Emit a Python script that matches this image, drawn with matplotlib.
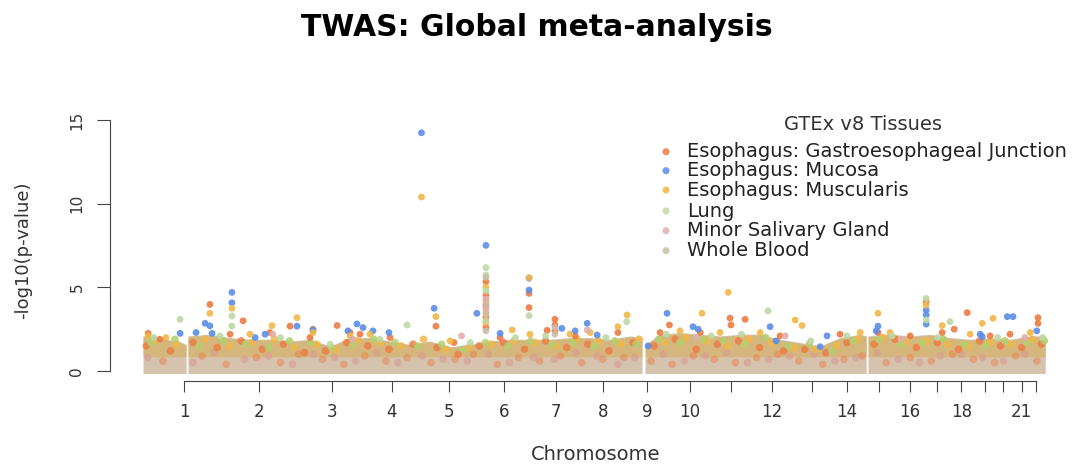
import matplotlib
matplotlib.use('Agg')
import matplotlib.pyplot as plt

#%% data

tissues = ['Esophagus: Gastroesophageal Junction', 'Esophagus: Mucosa',
           'Esophagus: Muscularis', 'Lung', 'Minor Salivary Gland', 'Whole Blood']
colours = ['#EE7A42', '#5C8DE8', '#F0B748', '#BCD9A4', '#E2AEAE', '#C9BEA8']

# chromosome lengths (Mb), ticks sit at the cumulative starts
chrom_len = [249, 243, 198, 191, 181, 171, 159, 146, 141, 136, 135,
             134, 115, 107, 103, 90, 81, 78, 59, 63, 48, 51]
tick_text = ['1', '2', '3', '4', '5', '6', '7', '8', '9', '10', '', '12',
             '', '14', '', '16', '', '18', '', '', '21', '']

# the dense band of non-significant genes (cumulative Mb, -log10 p)
band_x = [[-136, -100, -60, -20, 7],
          [13, 86, 153, 219, 285, 352, 418, 485, 551, 617, 684, 750, 816,
           883, 949, 1016, 1082, 1148, 1215, 1281, 1348, 1414, 1480, 1520],
          [1530, 1580, 1646, 1713, 1779, 1845, 1912, 1978, 2045, 2111,
           2177, 2244, 2264],
          [2270, 2343, 2410, 2476, 2542, 2609, 2675, 2741, 2808, 2858]]
band_top = [[2.1, 2.1, 1.9, 1.8, 1.6],
            [2.1, 2.2, 2.0, 1.9, 1.9, 1.8, 1.9, 1.5, 2.0, 2.0, 1.8, 1.6, 1.8,
             1.45, 1.6, 1.8, 1.9, 1.9, 1.9, 2.0, 2.0, 1.9, 2.1, 2.0],
            [1.6, 2.2, 2.3, 2.2, 2.1, 2.2, 2.2, 1.9, 1.7, 1.5, 2.0, 2.2, 2.1],
            [2.1, 2.2, 2.1, 2.2, 2.0, 1.9, 2.0, 1.9, 2.1, 2.1]]

# genes inside the band
gej_low_x = [-70, 60, 140, 240, 320, 380, 460, 530, 600, 670,
             740, 820, 900, 960, 1040, 1110, 1180, 1250, 1320, 1390,
             1460, 1550, 1620, 1690, 1760, 1830, 1900, 1970, 2040, 2120,
             2190, 2250, 2330, 2410, 2480, 2550, 2620, 2690, 2760, 2830]
gej_low_y = [0.6, 0.9, 0.4, 0.8, 0.5, 1.0, 0.7, 0.4, 0.9, 0.6,
             0.8, 0.5, 0.7, 1.0, 0.4, 0.8, 0.6, 0.9, 0.5, 0.7,
             0.8, 0.6, 0.4, 0.9, 0.7, 0.5, 0.8, 1.0, 0.6, 0.4,
             0.7, 0.9, 0.5, 0.8, 0.6, 1.0, 0.7, 0.5, 0.9, 0.6]
sal_low_x = [-120, 30, 100, 200, 280, 360, 430, 500, 570, 640,
             710, 790, 860, 940, 1010, 1080, 1160, 1230, 1300, 1370,
             1440, 1495, 1590, 1660, 1730, 1800, 1870, 1940, 2010, 2090,
             2160, 2230, 2300, 2370, 2440, 2510, 2580, 2650, 2720, 2790]
sal_low_y = [0.8, 0.5, 1.1, 0.7, 0.9, 0.4, 1.0, 0.8, 0.6, 1.1,
             0.5, 0.9, 0.7, 0.6, 1.0, 0.5, 0.8, 0.7, 1.1, 0.9,
             0.4, 0.8, 1.0, 0.6, 0.9, 1.1, 0.5, 0.7, 0.9, 1.0,
             0.6, 0.8, 1.1, 0.7, 0.5, 0.9, 1.0, 0.8, 0.6, 1.0]
gej_mid_x = [-125, -45, 30, 110, 190, 260, 330, 400, 470, 540,
             610, 680, 760, 840, 910, 980, 1060, 1130, 1200, 1270,
             1340, 1410, 1490, 1560, 1630, 1700, 1770, 1840, 1910, 1990,
             2060, 2130, 2200, 2290, 2360, 2430, 2500, 2570, 2640, 2710,
             2780, 2845]
gej_mid_y = [1.5, 1.2, 1.7, 1.4, 1.8, 1.3, 1.6, 1.1, 1.2, 1.7,
             1.5, 1.3, 1.6, 1.4, 1.0, 1.5, 1.7, 1.3, 1.8, 1.4,
             1.6, 1.2, 1.7, 1.5, 1.9, 1.3, 1.6, 1.8, 1.4, 1.2,
             1.3, 1.1, 1.7, 1.6, 1.9, 1.4, 1.7, 1.3, 1.8, 1.5,
             1.4, 1.6]
musc_mid_x = [-95, -25, 70, 150, 225, 300, 365, 440, 505, 575,
              650, 720, 795, 870, 945, 1020, 1095, 1165, 1235, 1305,
              1375, 1450, 1510, 1595, 1665, 1735, 1805, 1875, 1950, 2025,
              2095, 2165, 2235, 2320, 2395, 2465, 2535, 2605, 2675, 2745,
              2815]
musc_mid_y = [1.8, 1.6, 1.9, 1.5, 1.7, 1.9, 1.4, 1.6, 1.3, 1.8,
              1.7, 1.5, 1.9, 1.3, 1.4, 1.6, 1.8, 1.7, 1.5, 1.9,
              1.8, 1.6, 1.9, 1.7, 2.0, 1.8, 1.5, 1.9, 1.7, 1.4,
              1.3, 1.5, 1.9, 2.0, 1.7, 1.8, 1.6, 1.5, 1.7, 1.6,
              1.9]
lung_mid_x = [-110, -30, 50, 130, 205, 280, 350, 420, 490, 560,
              630, 700, 775, 855, 925, 1000, 1075, 1150, 1220, 1290,
              1360, 1430, 1500, 1575, 1645, 1720, 1790, 1860, 1930, 2005,
              2075, 2150, 2220, 2305, 2380, 2450, 2520, 2590, 2660, 2725,
              2795, 2855]
lung_mid_y = [1.7, 1.9, 1.5, 1.8, 1.6, 1.4, 1.8, 1.7, 1.4, 1.6,
              1.9, 1.7, 1.5, 1.6, 1.3, 1.7, 1.5, 1.8, 1.6, 1.7,
              1.5, 1.8, 1.6, 1.9, 1.7, 1.9, 1.8, 1.6, 2.0, 1.5,
              1.6, 1.2, 1.8, 1.9, 1.6, 1.7, 1.9, 1.6, 1.5, 1.8,
              1.7, 1.8]

# points standing out of the band, (cumulative Mb, -log10 p)
gej_pts = [(-119, 2.25), (86, 3.98), (196, 3.0), (352, 2.68), (428, 2.5),
           (508, 2.72), (584, 2.2), (836, 2.68), (1002, 5.34), (1002, 4.54),
           (1002, 3.9), (1002, 3.2), (1002, 2.6), (1145, 3.79), (1145, 4.64),
           (1205, 2.43), (1231, 3.09), (1231, 2.75), (1231, 2.4), (1611, 2.75),
           (1812, 3.16), (1815, 2.75), (1862, 3.09), (2410, 2.1), (2463, 4.14),
           (2556, 2.5), (2599, 3.49), (2834, 3.19), (2834, 2.85),
           (-80, 1.9), (153, 2.2), (285, 2.3), (418, 2.0), (551, 2.3),
           (684, 2.0), (896, 1.7), (1049, 2.0), (1298, 2.1), (1440, 2.3),
           (1580, 2.3), (1713, 2.3), (1978, 2.1), (2177, 2.2), (2303, 2.3),
           (2516, 2.3), (2675, 2.1), (2741, 2.2)]
mucosa_pts = [(-13, 2.25), (40, 2.3), (70, 2.85), (86, 2.7), (93, 2.25),
              (159, 4.70), (159, 4.08), (236, 2.0), (269, 2.2), (375, 2.68),
              (428, 2.45), (544, 2.4), (574, 2.81), (594, 2.6), (627, 2.4),
              (680, 2.3), (788, 14.24), (830, 3.75), (972, 3.45), (1002, 7.51),
              (1049, 2.25), (1145, 5.55), (1145, 4.84), (1254, 2.55),
              (1298, 2.4), (1338, 2.85), (1371, 2.15), (1540, 1.5),
              (1603, 3.45), (1689, 2.65), (1706, 2.5), (1945, 2.65),
              (1965, 1.8), (2111, 1.45), (2134, 2.1), (2297, 2.4), (2303, 2.68),
              (2463, 3.64), (2463, 3.35), (2463, 2.8), (2642, 2.2), (2649, 2.05),
              (2732, 3.25), (2751, 3.25), (2830, 2.4)]
muscularis_pts = [(-119, 2.1), (86, 3.45), (159, 3.75), (292, 2.71), (375, 3.19),
                  (428, 2.3), (788, 10.4), (836, 3.25), (1002, 5.0), (1002, 4.2),
                  (1002, 3.5), (1002, 2.9), (1089, 2.45), (1145, 5.58),
                  (1440, 2.65), (1470, 3.35), (1719, 3.45), (1806, 4.70),
                  (2028, 3.05), (2051, 2.72), (2303, 3.45), (2463, 3.94),
                  (2516, 2.72), (2649, 2.85), (2685, 3.15),
                  (-60, 2.0), (219, 2.2), (551, 2.1), (617, 2.2), (883, 1.8),
                  (1148, 2.2), (1281, 2.2), (1348, 2.3), (1646, 2.4), (1779, 2.3),
                  (1912, 2.3), (2244, 2.3), (2343, 2.3), (2609, 2.2), (2808, 2.3)]
lung_pts = [(-13, 3.09), (159, 2.69), (159, 3.29), (740, 2.75), (1002, 6.18),
            (1002, 5.74), (1002, 4.8), (1002, 3.0), (1145, 3.31), (1469, 2.95),
            (1938, 3.6), (2463, 4.34), (2463, 3.05), (2542, 2.95),
            (-100, 2.0), (120, 2.1), (320, 2.0), (485, 1.6), (650, 1.9),
            (950, 1.7), (1100, 2.0), (1200, 2.1), (1400, 2.0), (1600, 2.2),
            (1750, 2.1), (1850, 2.2), (2080, 1.8), (2200, 2.1), (2350, 2.1),
            (2500, 2.0), (2700, 2.0), (2850, 2.0)]
salivary_pts = [(295, 2.2), (921, 2.1), (1002, 4.3), (1002, 3.7), (1338, 2.45),
                (1995, 2.1), (560, 1.9), (1700, 2.0), (2380, 1.9), (2790, 2.0)]
blood_pts = [(1002, 5.6), (1002, 4.0), (1002, 3.4), (1002, 2.4), (1231, 2.6),
             (1231, 2.2)]

all_pts = [gej_pts, mucosa_pts, muscularis_pts, lung_pts, salivary_pts, blood_pts]

#%% plot

chrom_start = [sum(chrom_len[:i]) for i in range(len(chrom_len))]

fig = plt.figure(figsize=(10.74, 4.67), dpi=100)
ax = fig.add_axes([0.10242, 0.18415, 0.88454, 0.6017])
ax.set_xlim(-245.6, 2907)
ax.set_ylim(-0.598, 16.2)

# whole blood dominates the bottom of the band
for bx, bt in zip(band_x, band_top):
    ax.fill_between(bx, -0.15, bt, color='#D5C3AE', lw=0, zorder=1)
    ax.fill_between(bx, 0.85, [t - 0.05 for t in bt], color='#D6B46E',
                    lw=0, zorder=1, alpha=0.75)

ax.scatter(gej_low_x, gej_low_y, s=30, color=colours[0], edgecolors='none',
           alpha=0.45, zorder=2)
ax.scatter(sal_low_x, sal_low_y, s=30, color='#D99A94', edgecolors='none',
           alpha=0.6, zorder=2)
ax.scatter(gej_mid_x, gej_mid_y, s=30, color=colours[0], edgecolors='none',
           alpha=0.8, zorder=2)
ax.scatter(musc_mid_x, musc_mid_y, s=30, color=colours[2], edgecolors='none',
           alpha=0.85, zorder=2)
ax.scatter(lung_mid_x, lung_mid_y, s=30, color='#B3CF6E', edgecolors='none',
           alpha=0.85, zorder=2)

for i in range(len(tissues)):
    xs = [p[0] for p in all_pts[i]]
    ys = [p[1] for p in all_pts[i]]
    ax.scatter(xs, ys, s=24, color=colours[i], edgecolors='none', alpha=0.9,
               zorder=3 + i)

for s in ['top', 'right']:
    ax.spines[s].set_visible(False)
ax.spines['left'].set_bounds(0, 15)
ax.spines['bottom'].set_bounds(0, chrom_start[-1])
ax.spines['left'].set_color('#444444')
ax.spines['bottom'].set_color('#444444')

ax.set_yticks([0, 5, 10, 15])
ax.tick_params(axis='y', length=9.4, pad=9, labelsize=11, labelrotation=90,
               color='#444444', labelcolor='#333333')
for lab in ax.get_yticklabels():
    lab.set_va('center')
ax.set_xticks(chrom_start)
ax.set_xticklabels(tick_text)
ax.tick_params(axis='x', length=7.9, pad=8, labelsize=12,
               color='#444444', labelcolor='#333333')

fig.text(0.5, 1 - 27 / 467, 'TWAS: Global meta-analysis', fontsize=21.5,
         fontweight='bold', ha='center', va='center')
fig.text(23 / 1074, 1 - 250 / 467, '-log10(p-value)', rotation=90,
         fontsize=13, ha='center', va='center', color='#333333')
fig.text(596 / 1074, 1 - 454 / 467, 'Chromosome', fontsize=14,
         ha='center', va='center', color='#333333')

# legend, placed by hand
fig.text(863 / 1074, 1 - 125 / 467, 'GTEx v8 Tissues', fontsize=14,
         ha='center', va='center', color='#333333')
leg_y = [151.7, 170.7, 190, 211, 230.7, 250.7]
for i in range(len(tissues)):
    fy = 1 - leg_y[i] / 467
    ax.scatter([666 / 1074], [fy], s=26, color=colours[i], edgecolors='none',
               alpha=0.85, transform=fig.transFigure, clip_on=False)
    fig.text(686.7 / 1074, fy, tissues[i], fontsize=14, ha='left',
             va='center', color='#222222')

fig.savefig('out.png', dpi=100)
